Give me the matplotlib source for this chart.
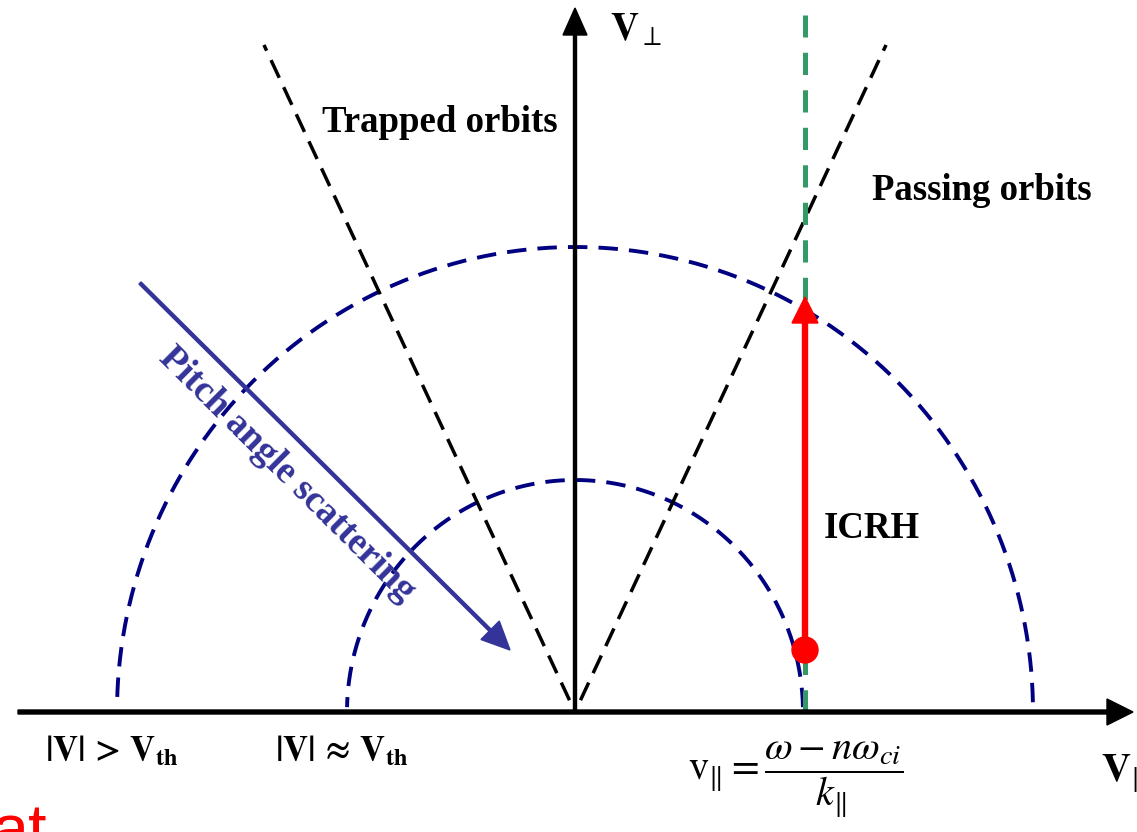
import numpy as np
import matplotlib
matplotlib.use("Agg")
import matplotlib.pyplot as plt
from matplotlib.patches import FancyArrow, Circle

plt.rcParams['mathtext.fontset'] = 'stix'
plt.rcParams['lines.scale_dashes'] = False

# ---- diagram geometry (velocity-space units, origin at V=0) ----
outer_radii = (458, 465)          # |V| > Vth  (horizontal, vertical)
inner_radii = (228, 232)          # |V| ~ Vth
arc_angles = (1.2, 178.8)         # degrees, arc span
cone_angles = [65, 115]           # trapped/passing boundary lines, degrees
cone_r = (13, 736)                # radial extent of boundary lines
v_res = 230                       # resonant parallel velocity
icrh_v = (62, 415)                # ICRH kick: start / end perpendicular velocity
pitch_start = (-435, 429)
pitch_end = (-65, 62)
x_axis = (-557, 558)
y_axis = (0, 704)
green_y = (0, 697)

labels = {
    'trapped': 'Trapped orbits',
    'passing': 'Passing orbits',
    'icrh': 'ICRH',
    'pitch': 'Pitch angle scattering',
    'vperp': r'$\mathbf{V}_{\perp}$',
    'vpar': r'$\mathbf{V}_{\|}$',
    'fast': r'$\mathbf{|V|\,>\,V_{th}}$',
    'thermal': r'$\mathbf{|V|\,\approx\,V_{th}}$',
    'res': r'$\mathrm{v}_{\|}=\dfrac{\omega - n\omega_{ci}}{k_{\|}}$',
    'cut': 'at',
}

fig = plt.figure(figsize=(11.37, 8.32), dpi=100)
ax = fig.add_axes([0, 0, 1, 1])
ax.set_xlim(-575, 562)
ax.set_ylim(-120, 712)
ax.set_aspect('equal')
ax.axis('off')

navy = '#000080'
pitch_col = '#333399'
green = '#339966'

# arcs
th = np.radians(np.linspace(arc_angles[0], arc_angles[1], 400))
for rx, ry in (outer_radii, inner_radii):
    ax.plot(rx * np.cos(th), ry * np.sin(th), color=navy, lw=2.8,
            linestyle=(0, (14, 8)))

# cone lines
for a in cone_angles:
    ar = np.radians(a)
    r = np.array(cone_r)
    ax.plot(r * np.cos(ar), r * np.sin(ar), color='black', lw=2.5,
            linestyle=(0, (14, 7.5)))

# green resonance line
ax.plot([v_res, v_res], green_y, color=green, lw=3.6, linestyle=(0, (16, 11)), zorder=2)

# axes arrows
ax.add_patch(FancyArrow(x_axis[0], 0, x_axis[1] - x_axis[0], 0, width=4,
                        head_width=26, head_length=26, length_includes_head=True,
                        color='black', zorder=5))
ax.add_patch(FancyArrow(0, y_axis[0], 0, y_axis[1] - y_axis[0], width=3,
                        head_width=24, head_length=27, length_includes_head=True,
                        color='black', zorder=5))

# ICRH arrow
ax.add_patch(FancyArrow(v_res, icrh_v[0], 0, icrh_v[1] - icrh_v[0], width=5,
                        head_width=26, head_length=26, length_includes_head=True,
                        color='red', zorder=6))
ax.add_patch(Circle((v_res, icrh_v[0]), 13, color='red', zorder=7))

# pitch-angle scattering arrow
ax.add_patch(FancyArrow(pitch_start[0], pitch_start[1],
                        pitch_end[0] - pitch_start[0], pitch_end[1] - pitch_start[1],
                        width=3, head_width=26, head_length=28, length_includes_head=True,
                        color=pitch_col, zorder=6))

serif = 'Liberation Serif'
fs = 26.5
ax.text(-135, 590, labels['trapped'], family=serif, weight='bold', fontsize=fs,
        ha='center', va='center')
ax.text(407, 522, labels['passing'], family=serif, weight='bold', fontsize=fs,
        ha='center', va='center')
ax.text(297, 183, labels['icrh'], family=serif, weight='bold', fontsize=fs,
        ha='center', va='center')
ang = np.degrees(np.arctan2(pitch_end[1] - pitch_start[1], pitch_end[0] - pitch_start[0]))
ax.text(-288, 238, labels['pitch'], family=serif, weight='bold', fontsize=27,
        color=pitch_col, ha='center', va='center', rotation=ang, rotation_mode='anchor')

ax.text(35, 682, labels['vperp'], fontsize=28, ha='left', va='center')
ax.text(526, -62, labels['vpar'], fontsize=29, ha='left', va='center')
ax.text(-530, -38, labels['fast'], fontsize=25, ha='left', va='center')
ax.text(-300, -38, labels['thermal'], fontsize=25, ha='left', va='center')
ax.text(113, -68, labels['res'], fontsize=29, ha='left', va='center')

ax.text(-584, -140, labels['cut'], family='Liberation Sans', fontsize=48, color='red',
        ha='left', va='baseline')

fig.savefig('out.png', dpi=100)
